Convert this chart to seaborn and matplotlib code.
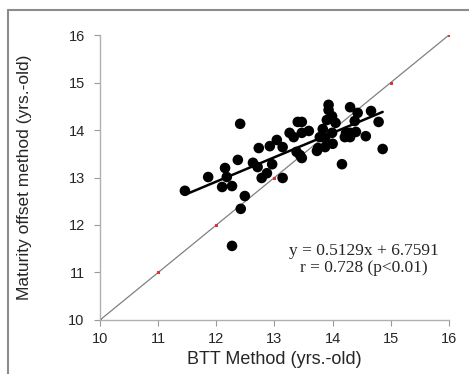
import numpy as np
import pandas as pd
import seaborn as sns
from matplotlib import pyplot as plt
from matplotlib.lines import Line2D

# BTT method age vs maturity offset age (yrs.-old)
btt = [11.46, 11.86, 12.15, 12.18, 12.10, 12.27, 12.37, 12.41, 12.49, 12.42,
       12.27, 12.63, 12.71, 12.73, 12.92, 13.04, 13.14, 12.78, 12.87, 13.14,
       12.96, 13.26, 13.40, 13.47, 13.33, 13.47, 13.59, 13.38, 13.44, 13.47,
       13.75, 13.73, 13.78, 13.87, 13.83, 13.90, 13.93, 13.93, 13.99, 14.05,
       13.99, 13.87, 14.00, 14.16, 14.23, 14.30, 14.43, 14.66, 14.38, 14.79,
       14.30, 14.40, 14.30, 14.57, 14.86, 14.21]
offset = [12.72, 13.01, 13.20, 13.01, 12.80, 12.82, 13.37, 14.13, 12.61, 12.34,
          11.56, 13.31, 13.22, 13.62, 13.66, 13.79, 13.64, 12.99, 13.09, 12.99,
          13.28, 13.94, 14.17, 14.17, 13.85, 13.94, 13.98, 13.54, 13.47, 13.41,
          13.62, 13.56, 13.85, 13.83, 14.02, 14.21, 14.53, 14.42, 14.29, 14.15,
          13.94, 13.64, 13.71, 13.28, 13.94, 14.48, 14.36, 14.40, 14.19, 14.17,
          13.94, 13.96, 13.85, 13.87, 13.60, 13.85]

slope, intercept = 0.5129, 6.7591
r_value = 0.728
ticks = [10, 11, 12, 13, 14, 15, 16]

df = pd.DataFrame({'BTT': btt, 'Offset': offset})

# regression line over the data range, identity line over the axis range
x_fit = np.array([min(btt), max(btt)])
fit = pd.DataFrame({'x': x_fit, 'y': slope * x_fit + intercept})
ident = pd.DataFrame({'x': ticks, 'y': ticks})

sns.set_style('white')
plt.rcParams['font.family'] = ['Liberation Sans', 'DejaVu Sans']

fig = plt.figure(figsize=(4.69, 3.74), dpi=100)
ax = fig.add_axes([0.2132, 0.1444, 0.7441, 0.762])

sns.lineplot(data=ident, x='x', y='y', ax=ax, color='#808080', linewidth=0.9,
             marker='s', markersize=2, markerfacecolor='#e03030',
             markeredgecolor='#e03030', zorder=1)
sns.scatterplot(data=df, x='BTT', y='Offset', ax=ax, color='black', s=58,
                edgecolor='none', zorder=3)
sns.lineplot(data=fit, x='x', y='y', ax=ax, color='black', linewidth=1.8, zorder=2)

ax.set_xlim(10, 16)
ax.set_ylim(10, 16)
ax.set_xticks(ticks)
ax.set_yticks(ticks)
ax.tick_params(axis='both', labelsize=10.5, direction='out', length=4,
               width=0.8, color='#999999', bottom=True, left=True)
ax.tick_params(axis='x', pad=5)
ax.tick_params(axis='y', pad=7)
for s in ['top', 'right']:
    ax.spines[s].set_visible(False)
for s in ['left', 'bottom']:
    ax.spines[s].set_color('#b0b0b0')
    ax.spines[s].set_linewidth(1.0)

ax.set_xlabel('BTT Method (yrs.-old)', fontsize=13, labelpad=3)
ax.set_ylabel('Maturity offset method (yrs.-old)', fontsize=12.5, labelpad=26)

ax.text(14.54, 11.45, f'y = {slope}x + {intercept}', ha='center', va='center',
        fontsize=12.5, family='Liberation Serif')
ax.text(14.54, 11.09, f'r = {r_value} (p<0.01)', ha='center', va='center',
        fontsize=12.5, family='Liberation Serif')

# outer frame (top and left edges visible)
fig.add_artist(Line2D([8 / 469, 1], [1 - 10 / 374, 1 - 10 / 374],
                      transform=fig.transFigure, color='#8c8c8c', linewidth=1.5))
fig.add_artist(Line2D([8 / 469, 8 / 469], [0, 1 - 10 / 374],
                      transform=fig.transFigure, color='#8c8c8c', linewidth=1.5))

plt.savefig('out.png', dpi=100)
